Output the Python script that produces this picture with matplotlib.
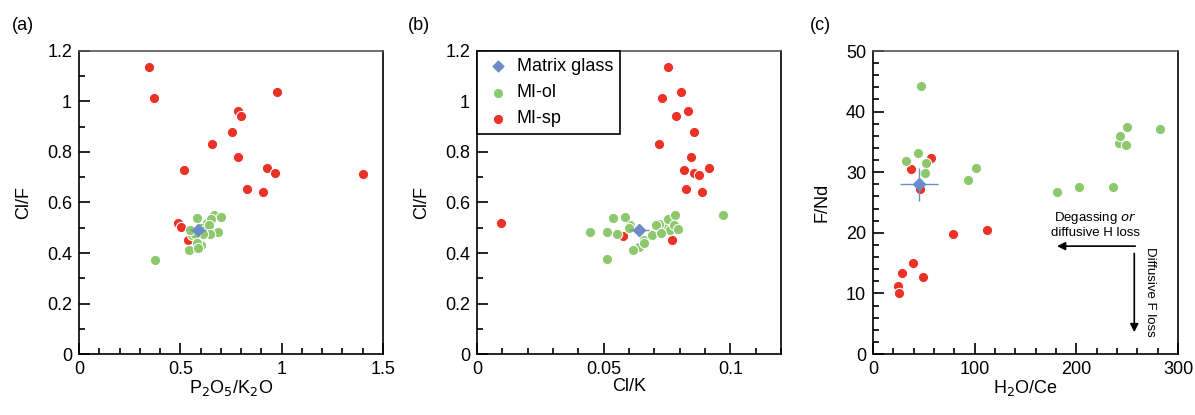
import matplotlib
matplotlib.use("Agg")
import matplotlib.pyplot as plt
from matplotlib.ticker import MultipleLocator, FuncFormatter

plt.rcParams["font.family"] = ["Liberation Sans", "DejaVu Sans"]

RED = "#ec3127"
GREEN = "#8dc86d"
BLUE = "#6b8cc8"

# panel (a): P2O5/K2O vs Cl/F
a_red_x = [0.347, 0.370, 0.977, 0.786, 0.799, 0.757, 0.654, 0.784, 0.520, 0.927,
           0.967, 1.400, 0.829, 0.907, 0.490, 0.505, 0.538]
a_red_y = [1.138, 1.013, 1.039, 0.962, 0.943, 0.879, 0.833, 0.779, 0.727, 0.735,
           0.717, 0.712, 0.655, 0.642, 0.520, 0.502, 0.453]
a_green_x = [0.667, 0.630, 0.600, 0.620, 0.560, 0.660, 0.600, 0.583, 0.652, 0.699,
             0.642, 0.684, 0.646, 0.613, 0.570, 0.550, 0.581, 0.543, 0.585, 0.373]
a_green_y = [0.552, 0.520, 0.500, 0.490, 0.470, 0.480, 0.430, 0.539, 0.535, 0.544,
             0.511, 0.484, 0.474, 0.475, 0.474, 0.491, 0.441, 0.412, 0.419, 0.372]
a_glass = (0.588, 0.491, 0.04, 0.025)  # x, y, xerr, yerr

# panel (b): Cl/K vs Cl/F
b_red_x = [0.0753, 0.0805, 0.0732, 0.0834, 0.0784, 0.0857, 0.0720, 0.0843, 0.0817,
           0.0915, 0.0857, 0.0876, 0.0826, 0.0890, 0.0093, 0.0575, 0.0770]
b_red_y = [1.138, 1.039, 1.013, 0.962, 0.943, 0.879, 0.833, 0.779, 0.727,
           0.737, 0.717, 0.710, 0.655, 0.642, 0.520, 0.469, 0.451]
b_green_x = [0.0605, 0.0660, 0.0745, 0.0720, 0.0760, 0.0640, 0.0445, 0.0514, 0.0537,
             0.0583, 0.0554, 0.0601, 0.0690, 0.0658, 0.0617, 0.0708, 0.0728, 0.0754,
             0.0781, 0.0778, 0.0793, 0.0973, 0.0514]
b_green_y = [0.510, 0.450, 0.500, 0.515, 0.490, 0.425, 0.484, 0.484, 0.539,
             0.544, 0.475, 0.498, 0.471, 0.441, 0.413, 0.512, 0.478, 0.534,
             0.549, 0.511, 0.495, 0.549, 0.375]
b_glass = (0.0639, 0.491, 0.004, 0.015)

# panel (c): H2O/Ce vs F/Nd
c_red_x = [57.4, 37.0, 45.9, 79.0, 111.8, 39.0, 28.9, 48.9, 24.9, 25.6]
c_red_y = [32.3, 30.5, 27.3, 19.8, 20.5, 15.0, 13.4, 12.7, 11.2, 10.1]
c_green_x = [47.5, 32.1, 44.6, 52.1, 51.5, 93.4, 101.0, 180.7, 202.3, 236.1,
             242.0, 243.0, 249.5, 248.5, 282.3]
c_green_y = [44.3, 31.9, 33.2, 31.6, 29.8, 28.7, 30.7, 26.8, 27.6, 27.6,
             34.8, 35.9, 37.4, 34.5, 37.2]
c_glass = (45.2, 28.0, 19, 2.7)

fig = plt.figure(figsize=(11.95, 4.15), dpi=100)
W, H = 1195, 415
DOT = 55


def make_ax(left, right):
    return fig.add_axes([left / W, 1 - 354 / H, (right - left) / W, 303 / H])


def style(ax, xmaj, xmin, ymaj, ymin):
    ax.xaxis.set_major_locator(MultipleLocator(xmaj))
    ax.xaxis.set_minor_locator(MultipleLocator(xmin))
    ax.yaxis.set_major_locator(MultipleLocator(ymaj))
    ax.yaxis.set_minor_locator(MultipleLocator(ymin))
    fmt = FuncFormatter(lambda v, p: "%g" % round(v, 6))
    ax.xaxis.set_major_formatter(fmt)
    ax.yaxis.set_major_formatter(fmt)
    ax.tick_params(which="both", direction="in", top=False, right=False,
                   labelsize=13, width=1.2, color="black")
    ax.tick_params(which="major", length=8, pad=5)
    ax.tick_params(which="minor", length=4)
    for s in ax.spines.values():
        s.set_linewidth(1.2)
        s.set_color("black")
    ax.spines["top"].set_color("#555555")


def draw(ax, rx, ry, gx, gy, glass):
    ax.scatter(rx, ry, s=DOT, c=RED, edgecolors="white", linewidths=0.8, zorder=3)
    ax.scatter(gx, gy, s=DOT, c=GREEN, edgecolors="white", linewidths=0.8, zorder=4)
    x, y, xe, ye = glass
    ax.errorbar([x], [y], xerr=[xe], yerr=[ye], fmt="D", color=BLUE, ms=6,
                mec=BLUE, elinewidth=1, capsize=0, zorder=5)


ax1 = make_ax(79, 383)
draw(ax1, a_red_x, a_red_y, a_green_x, a_green_y, a_glass)
ax1.set_xlim(0, 1.5)
ax1.set_ylim(0, 1.2)
style(ax1, 0.5, 0.1, 0.2, 0.1)
ax1.set_xlabel("P$_2$O$_5$/K$_2$O", fontsize=13, labelpad=0)
ax1.set_ylabel("Cl/F", fontsize=13, labelpad=11)

ax2 = make_ax(477, 781)
draw(ax2, b_red_x, b_red_y, b_green_x, b_green_y, b_glass)
ax2.set_xlim(0, 0.12)
ax2.set_ylim(0, 1.2)
style(ax2, 0.05, 0.01, 0.2, 0.1)
ax2.set_xlabel("Cl/K", fontsize=13, labelpad=0)
ax2.set_ylabel("Cl/F", fontsize=13, labelpad=11)

h_glass = ax2.scatter([], [], marker="D", s=30, c=BLUE)
h_ol = ax2.scatter([], [], s=DOT, c=GREEN, edgecolors="white", linewidths=0.8)
h_sp = ax2.scatter([], [], s=DOT, c=RED, edgecolors="white", linewidths=0.8)
leg = ax2.legend([h_glass, h_ol, h_sp], ["Matrix glass", "MI-ol", "MI-sp"],
                 loc="upper left", bbox_to_anchor=(0, 1), fontsize=13,
                 fancybox=False, edgecolor="black", framealpha=1,
                 borderaxespad=0, handletextpad=0.3, borderpad=0.4,
                 labelspacing=0.5, handlelength=1.5)
leg.get_frame().set_linewidth(1.2)

ax3 = make_ax(873, 1178)
draw(ax3, c_red_x, c_red_y, c_green_x, c_green_y, c_glass)
ax3.set_xlim(0, 300)
ax3.set_ylim(0, 50)
style(ax3, 100, 20, 10, 2)
ax3.set_xlabel("H$_2$O/Ce", fontsize=13, labelpad=0)
ax3.set_ylabel("F/Nd", fontsize=13, labelpad=11)

ax3.annotate("", xy=(181, 17.8), xytext=(258, 17.8),
             arrowprops=dict(arrowstyle="-|>", color="black", lw=1.2,
                             mutation_scale=12, shrinkA=0, shrinkB=0))
ax3.annotate("", xy=(257, 3.6), xytext=(257, 16.6),
             arrowprops=dict(arrowstyle="-|>", color="black", lw=1.2,
                             mutation_scale=12, shrinkA=0, shrinkB=0))
ax3.text(219, 22.5, "Degassing $\\it{or}$", ha="center", va="center", fontsize=9.5)
ax3.text(219, 19.9, "diffusive H loss", ha="center", va="center", fontsize=9.5)
ax3.text(272, 10.3, "Diffusive F loss", ha="center", va="center", fontsize=9.5,
         rotation=-90)

for label, x in [("(a)", 12), ("(b)", 408), ("(c)", 810)]:
    fig.text(x / W, 1 - 25 / H, label, fontsize=13, ha="left", va="center")

fig.savefig("out.png", dpi=100)
